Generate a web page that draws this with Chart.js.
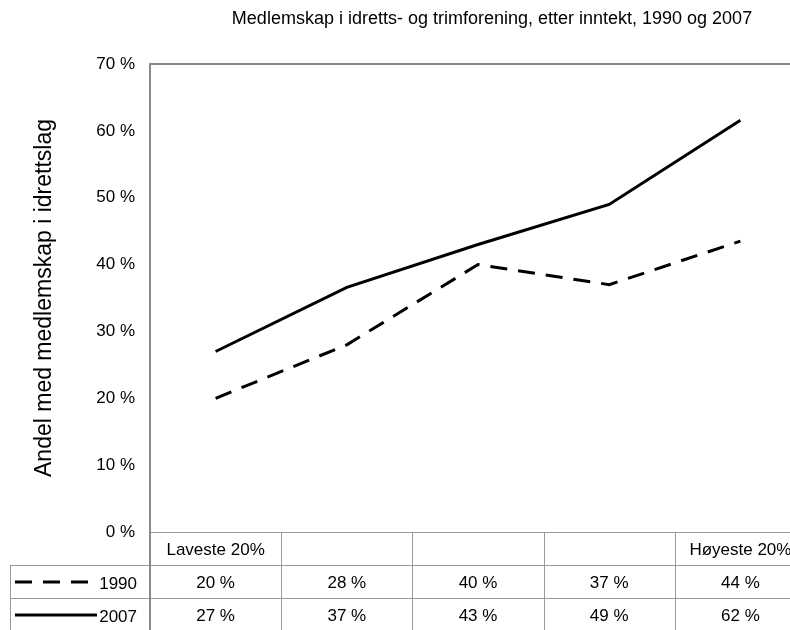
<!DOCTYPE html>
<html>
<head>
<meta charset="utf-8">
<script src="https://cdn.jsdelivr.net/npm/chart.js@4.4.1/dist/chart.umd.min.js"></script>
<style>
  html, body { margin: 0; padding: 0; background: #fff; overflow: hidden; }
  #wrap { position: relative; width: 806px; height: 630px; }
</style>
</head>
<body>
<div id="wrap"><canvas id="chart" width="806" height="630"></canvas></div>
<script>
'use strict';

var categories = ['Laveste 20%', '', '', '', 'Høyeste 20%'];
var years = ['1990', '2007'];
var values1990 = [20, 28, 40, 37, 43.5];
var values2007 = [27, 36.6, 43, 49, 61.6];
var yTicks = [0, 10, 20, 30, 40, 50, 60, 70];

var titleText = 'Medlemskap i idretts- og trimforening, etter inntekt, 1990 og 2007';
var yTitle = 'Andel med medlemskap i idrettslag';
var fontFamily = '"Liberation Sans", Arial, sans-serif';
var lineGray = '#8a8a8a';

var tablePlugin = {
    id: 'dataTable',
    afterDraw: function(chart) {
        var ctx = chart.ctx;
        var area = chart.chartArea;
        var xs = chart.scales.x;
        var colW = xs.width / categories.length;
        var rowTop = [area.bottom, area.bottom + 33, area.bottom + 66];
        var rowBottom = chart.height;

        ctx.save();

        // title
        ctx.fillStyle = '#000';
        ctx.font = '18px ' + fontFamily;
        ctx.textAlign = 'center';
        ctx.textBaseline = 'middle';
        ctx.fillText(titleText, 492, 19);

        // plot border top
        ctx.strokeStyle = lineGray;
        ctx.lineWidth = 2;
        ctx.beginPath();
        ctx.moveTo(area.left, area.top);
        ctx.lineTo(area.right, area.top);
        ctx.stroke();

        // table grid
        ctx.lineWidth = 1;
        ctx.strokeStyle = '#9a9a9a';
        ctx.beginPath();
        ctx.moveTo(area.left, rowTop[0] + 0.5);
        ctx.lineTo(area.right, rowTop[0] + 0.5);
        ctx.moveTo(10, rowTop[1] + 0.5);
        ctx.lineTo(area.right, rowTop[1] + 0.5);
        ctx.moveTo(10, rowTop[2] + 0.5);
        ctx.lineTo(area.right, rowTop[2] + 0.5);
        ctx.moveTo(10.5, rowTop[1]);
        ctx.lineTo(10.5, rowBottom);
        for (var i = 1; i < categories.length; i++) {
            var gx = Math.round(area.left + colW * i) + 0.5;
            ctx.moveTo(gx, rowTop[0]);
            ctx.lineTo(gx, rowBottom);
        }
        ctx.stroke();

        ctx.strokeStyle = lineGray;
        ctx.lineWidth = 2;
        ctx.beginPath();
        ctx.moveTo(area.left, area.top);
        ctx.lineTo(area.left, rowBottom);
        ctx.stroke();

        // cells
        ctx.fillStyle = '#000';
        ctx.font = '17px ' + fontFamily;
        ctx.textAlign = 'center';
        ctx.textBaseline = 'middle';
        var series = [values1990, values2007];
        for (var c = 0; c < categories.length; c++) {
            var cx = xs.getPixelForValue(c);
            ctx.fillText(categories[c], cx, rowTop[0] + 18);
            for (var r = 0; r < series.length; r++) {
                ctx.fillText(Math.round(series[r][c]) + ' %', cx, rowTop[r + 1] + 18);
            }
        }

        // legend keys
        chart.data.datasets.forEach(function(ds, r) {
            var ly = rowTop[r + 1] + 17;
            ctx.save();
            ctx.strokeStyle = ds.borderColor;
            ctx.lineWidth = ds.borderWidth;
            ctx.setLineDash(ds.borderDash || []);
            ctx.beginPath();
            ctx.moveTo(15, ly);
            ctx.lineTo(r === 0 ? 90 : 97, ly);
            ctx.stroke();
            ctx.restore();
            ctx.textAlign = 'right';
            ctx.fillText(ds.label, 137, ly + 2);
        });

        ctx.restore();
    }
};

new Chart(document.getElementById('chart'), {
    type: 'line',
    data: {
        labels: categories,
        datasets: [
            {
                label: years[0],
                data: values1990,
                borderColor: '#000',
                borderWidth: 3,
                borderDash: [17, 11],
                pointRadius: 0,
                tension: 0,
                fill: false
            },
            {
                label: years[1],
                data: values2007,
                borderColor: '#000',
                borderWidth: 3,
                pointRadius: 0,
                tension: 0,
                fill: false
            }
        ]
    },
    options: {
        responsive: false,
        animation: false,
        maintainAspectRatio: false,
        layout: { padding: { top: 64, right: 0, bottom: 98, left: 0 } },
        plugins: {
            legend: { display: false },
            tooltip: { enabled: false }
        },
        scales: {
            x: {
                display: false,
                offset: true
            },
            y: {
                min: 0,
                max: 70,
                afterBuildTicks: function(scale) {
                    scale.ticks = yTicks.map(function(v) { return { value: v }; });
                },
                afterFit: function(scale) {
                    scale.width = 150;
                },
                grid: { display: false, drawTicks: false },
                border: { display: true, color: lineGray, width: 2 },
                ticks: {
                    color: '#000',
                    padding: 15,
                    font: { family: fontFamily, size: 17 },
                    callback: function(v) { return v + ' %'; }
                },
                title: {
                    display: true,
                    text: yTitle,
                    color: '#000',
                    padding: { top: 31, bottom: 0 },
                    font: { family: fontFamily, size: 23 }
                }
            }
        }
    },
    plugins: [tablePlugin]
});
</script>
</body>
</html>
